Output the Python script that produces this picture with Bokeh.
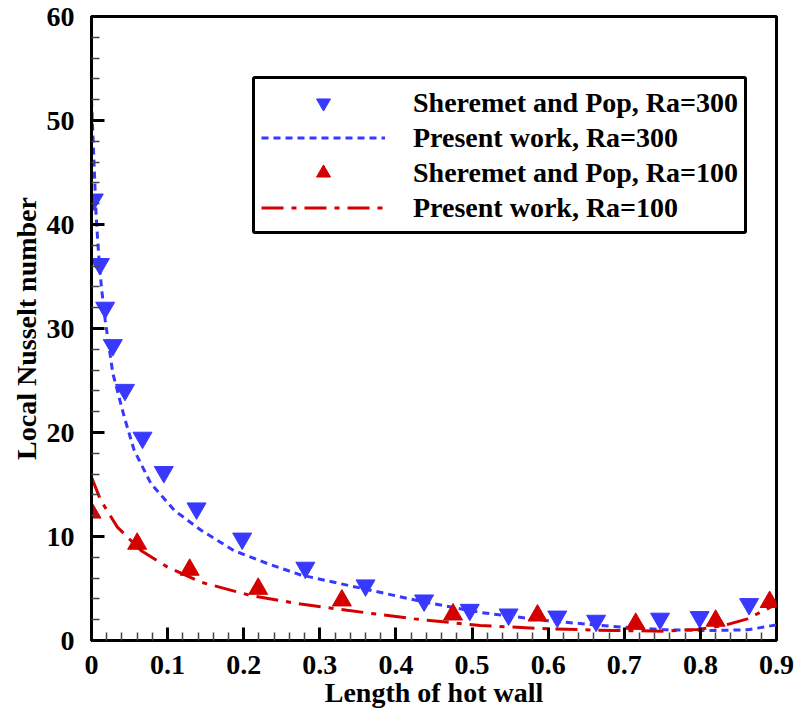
from bokeh.plotting import figure
from bokeh.models import Range1d, FixedTicker, Legend, LegendItem
from bokeh.embed import file_html
from bokeh.resources import INLINE

# ---- data ----
sp300_x = [0.003, 0.011, 0.018, 0.028, 0.044, 0.067, 0.095, 0.138, 0.198, 0.281,
           0.360, 0.437, 0.497, 0.548, 0.612, 0.663, 0.747, 0.799, 0.864]
sp300_y = [42.4, 36.2, 32.0, 28.4, 24.1, 19.5, 16.2, 12.7, 9.8, 7.0,
           5.3, 3.85, 2.95, 2.5, 2.3, 1.9, 2.1, 2.25, 3.5]

pw300_x = [0.0, 0.003, 0.006, 0.009, 0.013, 0.018, 0.028, 0.043, 0.056, 0.078,
           0.109, 0.144, 0.187, 0.231, 0.275, 0.358, 0.437, 0.511, 0.599, 0.686,
           0.752, 0.818, 0.862, 0.9]
pw300_y = [52.0, 46.5, 41.0, 37.5, 34.0, 30.8, 25.7, 21.5, 18.3, 15.1,
           12.5, 10.6, 8.65, 7.4, 6.3, 4.97, 3.7, 2.7, 1.9, 1.35,
           1.03, 0.96, 1.03, 1.5]

sp100_x = [0.0, 0.060, 0.129, 0.219, 0.329, 0.475, 0.586, 0.715, 0.820, 0.891]
sp100_y = [12.3, 9.3, 6.8, 4.97, 3.85, 2.5, 2.4, 1.6, 1.9, 3.7]

pw100_x = [0.0, 0.012, 0.034, 0.065, 0.100, 0.144, 0.209, 0.275, 0.336, 0.424,
           0.511, 0.599, 0.686, 0.752, 0.796, 0.831, 0.862, 0.9]
pw100_y = [15.7, 13.5, 10.9, 8.65, 7.05, 5.6, 4.33, 3.5, 2.9, 2.08,
           1.44, 1.12, 0.96, 0.9, 1.06, 1.44, 2.08, 3.5]

x_ticks = [0.0, 0.1, 0.2, 0.3, 0.4, 0.5, 0.6, 0.7, 0.8, 0.9]
x_tick_labels = ["0", "0.1", "0.2", "0.3", "0.4", "0.5", "0.6", "0.7", "0.8", "0.9"]
x_minor = [0.02, 0.04, 0.06, 0.08, 0.12, 0.14, 0.16, 0.18, 0.22, 0.24, 0.26, 0.28,
           0.32, 0.34, 0.36, 0.38, 0.42, 0.44, 0.46, 0.48, 0.52, 0.54, 0.56, 0.58,
           0.62, 0.64, 0.66, 0.68, 0.72, 0.74, 0.76, 0.78, 0.82, 0.84, 0.86, 0.88]
y_ticks = [0, 10, 20, 30, 40, 50, 60]
y_tick_labels = ["0", "10", "20", "30", "40", "50", "60"]
y_minor = [2, 4, 6, 8, 12, 14, 16, 18, 22, 24, 26, 28, 32, 34, 36, 38,
           42, 44, 46, 48, 52, 54, 56, 58]

legend_labels = ["Sheremet and Pop, Ra=300", "Present work, Ra=300",
                 "Sheremet and Pop, Ra=100", "Present work, Ra=100"]

BLUE = "#3838ff"
RED = "#d40000"
FONT = "Liberation Serif"

p = figure(frame_width=685, frame_height=624,
           x_range=Range1d(0, 0.9), y_range=Range1d(0, 60),
           output_backend="svg", toolbar_location=None,
           min_border_left=91, min_border_right=20,
           min_border_top=16, min_border_bottom=76)
p.background_fill_color = "white"
p.border_fill_color = "white"
p.outline_line_color = "black"
p.outline_line_width = 3
p.outline_line_alpha = 1.0
p.xgrid.visible = False
p.ygrid.visible = False

for ax, ticks, minor, labels in [(p.xaxis[0], x_ticks, x_minor, x_tick_labels),
                                 (p.yaxis[0], y_ticks, y_minor, y_tick_labels)]:
    ax.ticker = FixedTicker(ticks=ticks, minor_ticks=minor)
    ax.major_label_overrides = dict(zip(ticks, labels))
    ax.axis_line_width = 3
    ax.axis_line_color = "black"
    ax.major_tick_in = 13
    ax.major_tick_out = 0
    ax.major_tick_line_width = 3
    ax.minor_tick_in = 8
    ax.minor_tick_out = 0
    ax.minor_tick_line_width = 1.5
    ax.minor_tick_line_color = "#444444"
    ax.major_label_text_font = FONT
    ax.major_label_text_font_style = "bold"
    ax.major_label_text_font_size = "28px"
    ax.major_label_text_color = "black"
    ax.axis_label_text_font = FONT
    ax.axis_label_text_font_style = "bold"
    ax.axis_label_text_font_size = "28px"
    ax.axis_label_text_color = "black"

p.xaxis.axis_label = "Length of hot wall"
p.yaxis.axis_label = "Local Nusselt number"
p.xaxis.major_label_standoff = 15
p.yaxis.major_label_standoff = 17
p.xaxis.axis_label_standoff = 0
p.yaxis.axis_label_standoff = 2

l300 = p.line(pw300_x, pw300_y, line_color=BLUE, line_width=3, line_dash="7 5")
l100 = p.line(pw100_x, pw100_y, line_color=RED, line_width=3, line_dash="22 8 5 8")
m300 = p.scatter(sp300_x, sp300_y, marker="inverted_triangle", size=19,
                 fill_color=BLUE, line_color=BLUE)
m100 = p.scatter(sp100_x, sp100_y, marker="triangle", size=19,
                 fill_color=RED, line_color=RED)

legend = Legend(items=[LegendItem(label=legend_labels[0], renderers=[m300]),
                       LegendItem(label=legend_labels[1], renderers=[l300]),
                       LegendItem(label=legend_labels[2], renderers=[m100]),
                       LegendItem(label=legend_labels[3], renderers=[l100])],
                location=(161, 406))
legend.glyph_width = 124
legend.glyph_height = 35
legend.label_height = 35
legend.spacing = 0
legend.padding = 6
legend.margin = 0
legend.label_standoff = 28
legend.label_text_font = FONT
legend.label_text_font_style = "bold"
legend.label_text_font_size = "28px"
legend.label_text_color = "black"
legend.border_line_color = "black"
legend.border_line_width = 3
legend.border_line_alpha = 1.0
legend.border_radius = 3
legend.background_fill_color = "white"
legend.background_fill_alpha = 1.0
p.add_layout(legend, "center")

open("out.html", "w").write(file_html(p, INLINE))
